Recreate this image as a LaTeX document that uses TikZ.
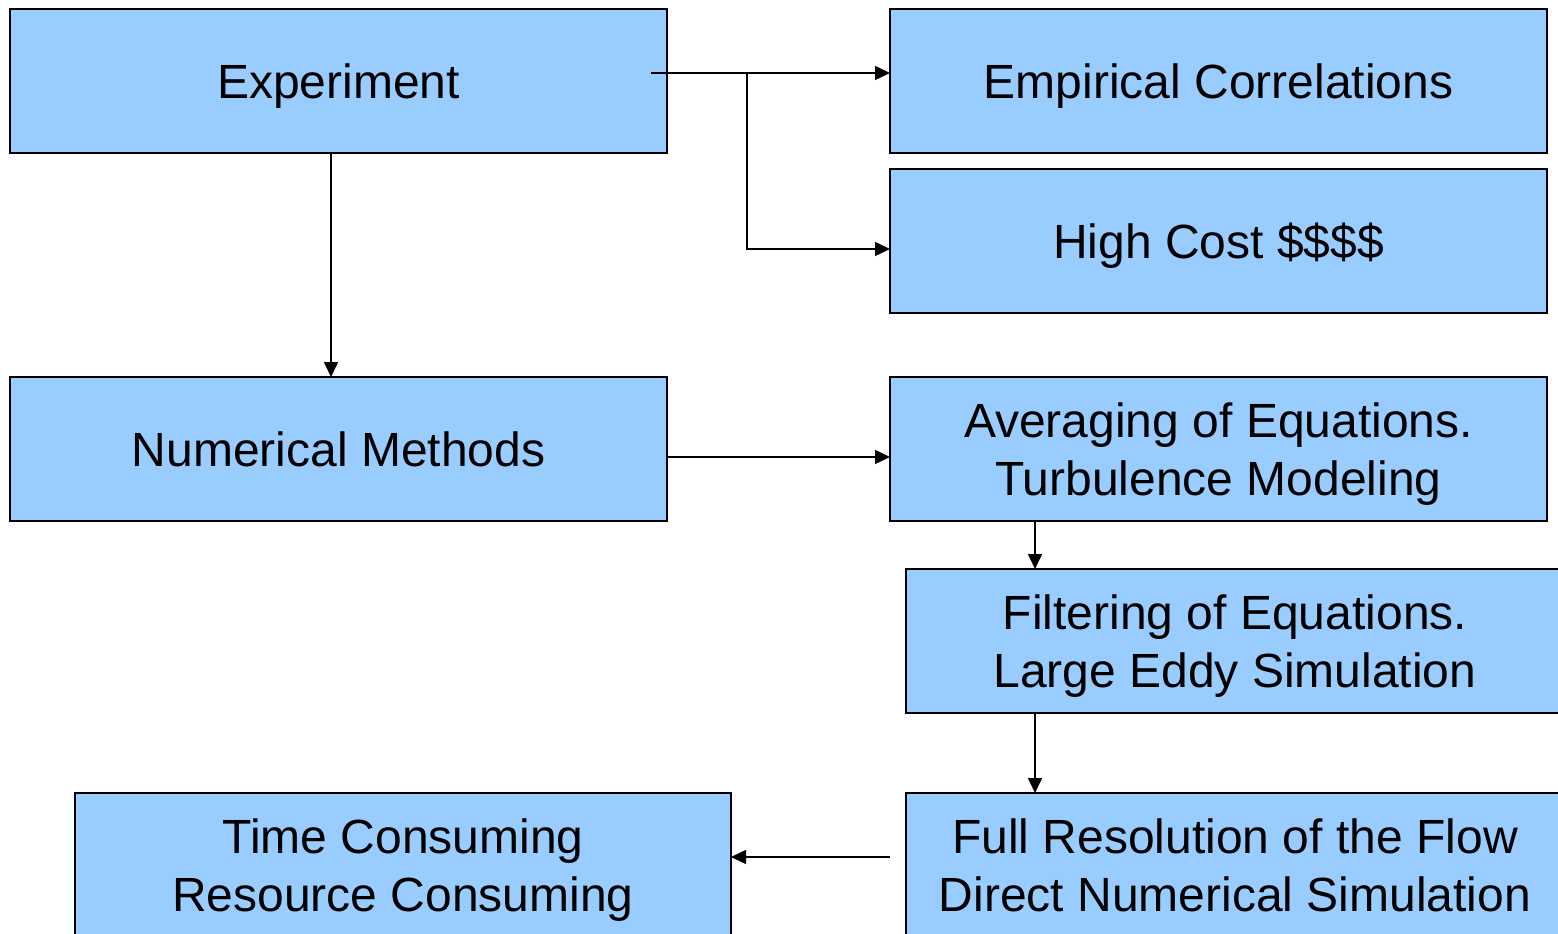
\documentclass[tikz,border=0pt]{standalone}
\usepackage{fontspec}
\setmainfont{Liberation Sans}
\usetikzlibrary{arrows.meta,calc}
\definecolor{boxblue}{RGB}{153,204,255}
\newcommand{\nodesc}[1]{\raisebox{0pt}[\height][0pt]{#1}}
\begin{document}
\begin{tikzpicture}[x=1pt,y=-1pt,
  box/.style={draw=black,line width=2pt,fill=boxblue,rectangle,inner sep=0pt,outer sep=0pt,
    minimum height=144pt,align=center,font=\fontsize{48}{58}\selectfont},
  conn/.style={line width=1.5pt,-{Triangle[length=15pt,width=14pt]}}]
\useasboundingbox (0,0) rectangle (1558,934);
\clip (0,0) rectangle (1558,934);
\node[box,minimum width=657pt] (exp) at (338.5,81) {\nodesc{Experiment}};
\node[box,minimum width=657pt] (emp) at (1218.5,81) {\nodesc{Empirical Correlations}};
\node[box,minimum width=657pt] (cost) at (1218.5,241) {\nodesc{High Cost \$\$\$\$}};
\node[box,minimum width=657pt] (num) at (338.5,449) {\nodesc{Numerical Methods}};
\node[box,minimum width=657pt] (avg) at (1218.5,449) {Averaging of Equations.\\\nodesc{Turbulence Modeling}};
\node[box,minimum width=658pt] (filt) at (1235,641) {Filtering of Equations.\\\nodesc{Large Eddy Simulation}};
\node[box,minimum width=658pt] (full) at (1235,865) {Full Resolution of the Flow\\\nodesc{Direct Numerical Simulation}};
\node[box,minimum width=656pt] (time) at (403,865) {Time Consuming\\\nodesc{Resource Consuming}};
\coordinate (s1) at ([xshift=-16pt,yshift=8pt]exp.east);
\coordinate (br) at ([xshift=96pt]s1);
\draw[conn] (s1) -- (s1 -| emp.west);
\draw[conn] (br) |- ([yshift=-8pt]cost.west);
\draw[conn] ([xshift=-7.5pt]exp.south) -- ([xshift=-7.5pt]num.north);
\draw[conn] ([yshift=-8pt]num.east) -- ([yshift=-8pt]avg.west);
\draw[conn] ([xshift=-183.5pt]avg.south) -- ([xshift=-200pt]filt.north);
\draw[conn] ([xshift=-200pt]filt.south) -- ([xshift=-200pt]full.north);
\coordinate (s2) at ([xshift=-16pt,yshift=8pt]full.west);
\draw[conn] (s2) -- ([yshift=8pt]time.east);
\end{tikzpicture}
\end{document}
